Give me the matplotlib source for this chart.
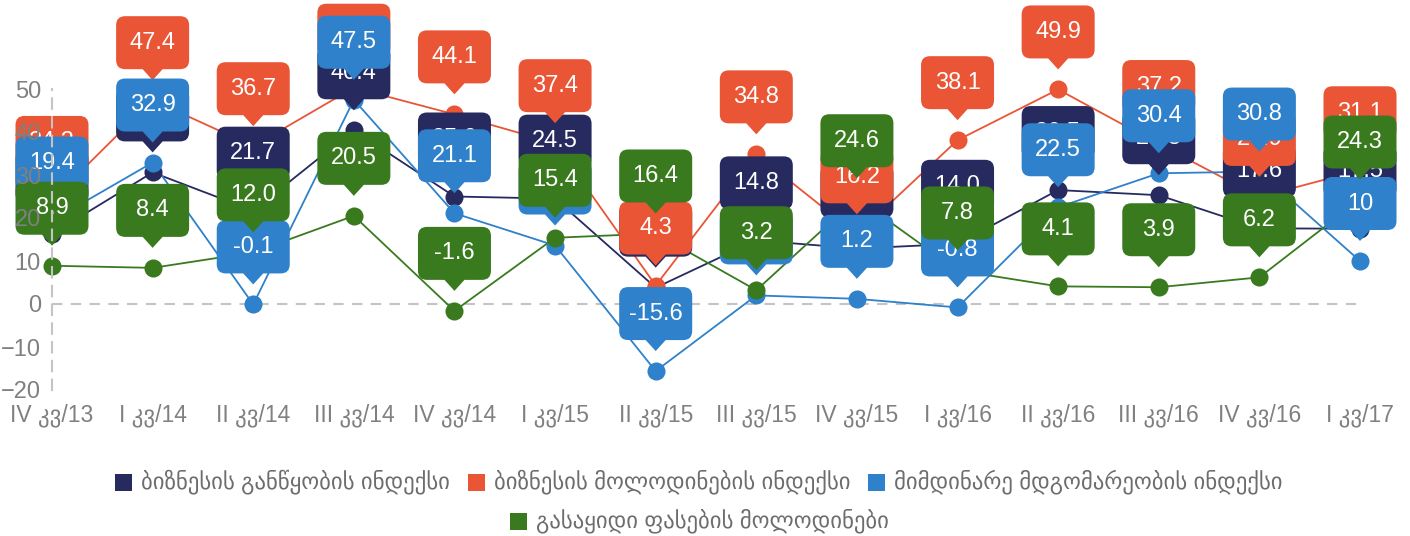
import matplotlib
matplotlib.use('Agg')
import matplotlib.pyplot as plt
from matplotlib.path import Path
from matplotlib.patches import PathPatch, Rectangle
from matplotlib.transforms import IdentityTransform

plt.rcParams['font.family'] = ['Liberation Sans', 'DejaVu Sans']

categories = ['IV კვ/13', 'I კვ/14', 'II კვ/14', 'III კვ/14', 'IV კვ/14', 'I კვ/15',
              'II კვ/15', 'III კვ/15', 'IV კვ/15', 'I კვ/16', 'II კვ/16', 'III კვ/16',
              'IV კვ/16', 'I კვ/17']

series_names = ['ბიზნესის განწყობის ინდექსი',
                'ბიზნესის მოლოდინების ინდექსი',
                'მიმდინარე მდგომარეობის ინდექსი',
                'გასაყიდი ფასების მოლოდინები']

sentiment = [16.3, 30.6, 21.7, 40.4, 25.0, 24.5, 3.8, 14.8, 12.9, 14.0, 26.5, 25.3, 17.6, 17.5]
expectations = [24.2, 47.4, 36.7, 50.3, 44.1, 37.4, 4.3, 34.8, 16.2, 38.1, 49.9, 37.2, 24.9, 31.1]
current = [19.4, 32.9, -0.1, 47.5, 21.1, 13.6, -15.6, 2.0, 1.2, -0.8, 22.5, 30.4, 30.8, 10]
prices = [8.9, 8.4, 12.0, 20.5, -1.6, 15.4, 16.4, 3.2, 24.6, 7.8, 4.1, 3.9, 6.2, 24.3]

colors = ['#262A5F', '#EA5535', '#2E81CA', '#397A1F']
all_series = [sentiment, expectations, current, prices]

W, H = 1410, 536
fig = plt.figure(figsize=(W / 100, H / 100), dpi=100)
ax = fig.add_axes([52 / W, 1 - 390 / H, (1360 - 52) / W, (390 - 89) / H])

x = list(range(len(categories)))
ax.set_xlim(0, len(categories) - 1)
ax.set_ylim(-20, 50)

for vals, c in zip(all_series, colors):
    ax.plot(x, vals, color=c, lw=1.3, zorder=1, clip_on=False)
    ax.plot(x, vals, 'o', color=c, ms=13, mec='none', zorder=1.5, clip_on=False)

ax.axhline(0, color='#c4c4c4', lw=1.5, ls=(0, (5, 4)), zorder=0.5)

for s in ['top', 'right', 'bottom']:
    ax.spines[s].set_visible(False)
ax.spines['left'].set_color('#c4c4c4')
ax.spines['left'].set_linewidth(1.5)
ax.spines['left'].set_linestyle((0, (5, 4)))
ax.spines['left'].set_zorder(50)

ax.set_yticks([-20, -10, 0, 10, 20, 30, 40, 50])
ax.set_xticks(x)
ax.set_xticklabels(categories)
ax.tick_params(axis='y', length=0, pad=8, labelsize=17, labelcolor='#808080')
ax.tick_params(axis='x', length=0, pad=10, labelsize=16.5, labelcolor='#808080')
ax.xaxis.set_zorder(50)
ax.yaxis.set_zorder(50)
ax.patch.set_visible(False)


def callout(xv, yv, text, color, z):
    px, py = ax.transData.transform((xv, yv))
    w, h, r = 73, 53, 9
    tip, gap, pw = 20, 31, 10
    l, rt = px - w / 2, px + w / 2
    b, t = py + gap, py + gap + h
    verts = [(l + r, b), (px - pw, b), (px, py + tip), (px + pw, b), (rt - r, b),
             (rt, b), (rt, b + r), (rt, t - r), (rt, t), (rt - r, t), (l + r, t),
             (l, t), (l, t - r), (l, b + r), (l, b), (l + r, b), (l + r, b)]
    codes = [Path.MOVETO, Path.LINETO, Path.LINETO, Path.LINETO, Path.LINETO,
             Path.CURVE3, Path.CURVE3, Path.LINETO, Path.CURVE3, Path.CURVE3, Path.LINETO,
             Path.CURVE3, Path.CURVE3, Path.LINETO, Path.CURVE3, Path.CURVE3, Path.CLOSEPOLY]
    patch = PathPatch(Path(verts, codes), facecolor=color, edgecolor='none',
                      transform=IdentityTransform(), zorder=z, clip_on=False)
    ax.add_patch(patch)
    ax.text(px, b + h / 2, text, transform=IdentityTransform(), ha='center', va='center',
            color='white', fontsize=17, zorder=z + 0.01, clip_on=False)


for k, (vals, c) in enumerate(zip(all_series, colors)):
    for i, v in enumerate(vals):
        callout(i, v, f"{v}", c, 2 + k * 0.1 + i * 0.001)

# legend (two centred rows)
renderer = fig.canvas.get_renderer()
probe = fig.text(0, 0, series_names[0], fontsize=13, transform=IdentityTransform())
w0 = probe.get_window_extent(renderer).width
probe.remove()
lfs = 13 * 309 / w0
sq, sgap, igap = 17, 9, 18
rows = [([0, 1, 2], 54), ([3], 15)]
centre = 699
for idx_list, yc in rows:
    widths = []
    for i in idx_list:
        tt = fig.text(0, 0, series_names[i], fontsize=lfs, transform=IdentityTransform())
        widths.append(tt.get_window_extent(renderer).width)
        tt.remove()
    total = sum(sq + sgap + wd for wd in widths) + igap * (len(widths) - 1)
    xs = centre - total / 2
    for i, wd in zip(idx_list, widths):
        fig.patches.append(Rectangle((xs, yc - sq / 2), sq, sq, facecolor=colors[i],
                                     edgecolor='none', transform=IdentityTransform(),
                                     figure=fig))
        fig.text(xs + sq + sgap, yc, series_names[i], fontsize=lfs, color='#6d6d6d',
                 ha='left', va='center', transform=IdentityTransform())
        xs += sq + sgap + wd + igap

fig.savefig('out.png', dpi=100)
